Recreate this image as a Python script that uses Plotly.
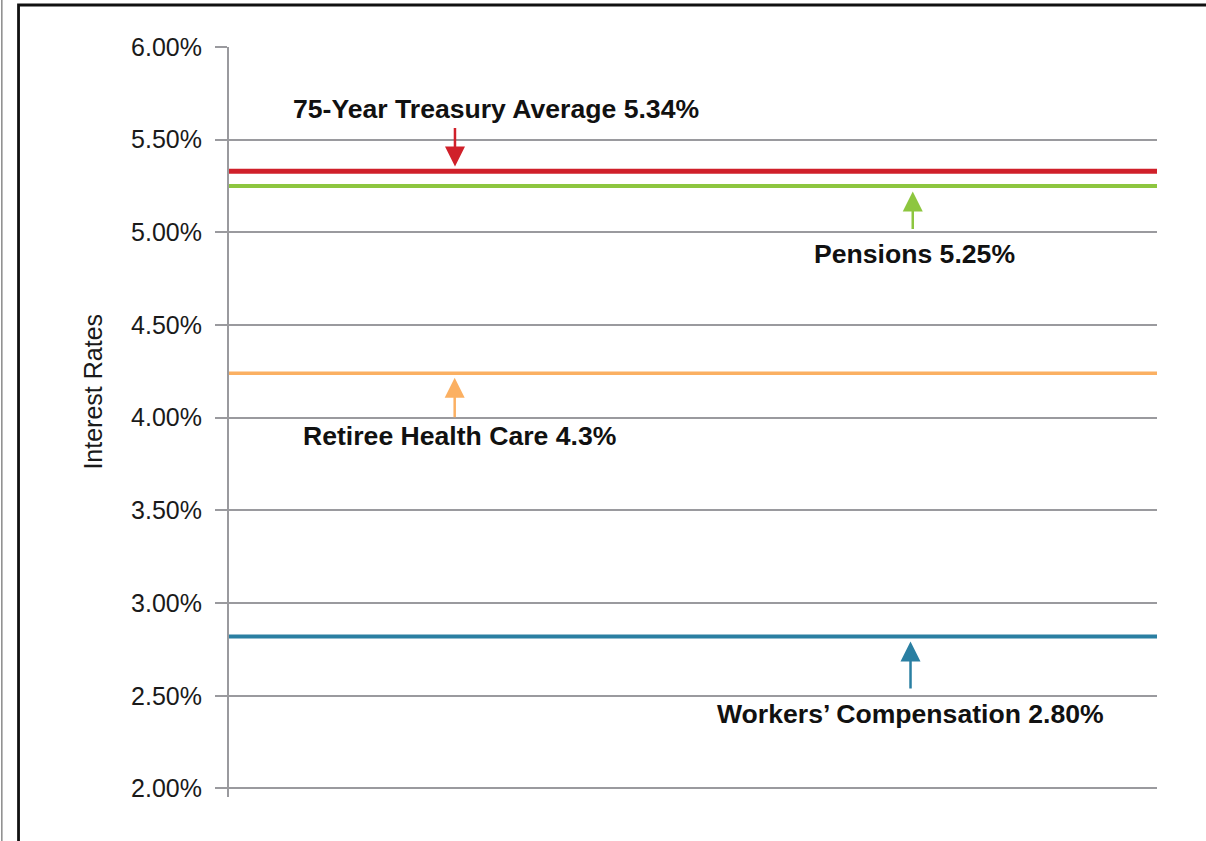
import plotly.graph_objects as go

# Data
series_names = ["75-Year Treasury Average", "Pensions", "Retiree Health Care", "Workers' Compensation"]
series_values = [5.33, 5.25, 4.24, 2.82]
series_labels = ["75-Year Treasury Average 5.34%", "Pensions 5.25%",
                 "Retiree Health Care 4.3%", "Workers’ Compensation 2.80%"]
series_colors = ["#d0202a", "#8dc63f", "#fbb062", "#2a7fa2"]
series_widths = [5, 4, 3.5, 4]
x_span = [0, 1]
tick_vals = [2.0, 2.5, 3.0, 3.5, 4.0, 4.5, 5.0, 5.5, 6.0]
tick_text = ["2.00%", "2.50%", "3.00%", "3.50%", "4.00%", "4.50%", "5.00%", "5.50%", "6.00%"]

# annotation placement (arrow x, arrow tail offset px, standoff, label x, label y)
arrow_x = [0.2435, 0.7368, 0.2432, 0.7344]
arrow_ay = [-44.7, 44.4, 45.6, 53.6]
arrow_standoff = [4.7, 5.4, 4.6, 5.0]
label_x = [0.2877, 0.7392, 0.2486, 0.7343]
label_y = [5.668, 4.886, 3.901, 2.400]

FONT = "Liberation Sans, Arial, Helvetica, sans-serif"
GRID = "#9a9a9e"

fig = go.Figure()
for name, v, c, w in zip(series_names, series_values, series_colors, series_widths):
    fig.add_trace(go.Scatter(x=x_span, y=[v, v], mode="lines", name=name,
                             line=dict(color=c, width=w), hoverinfo="name+y",
                             cliponaxis=False))

annotations = []
for v, c, ax_, ay_, so in zip(series_values, series_colors, arrow_x, arrow_ay, arrow_standoff):
    annotations.append(dict(x=ax_, y=v, xref="x", yref="y", text="", showarrow=True,
                            ax=0, ay=ay_, arrowhead=2, arrowsize=1.6, arrowwidth=2.5,
                            arrowcolor=c, standoff=so))
for t, lx, ly in zip(series_labels, label_x, label_y):
    annotations.append(dict(x=lx, y=ly, xref="x", yref="y", text="<b>" + t + "</b>",
                            showarrow=False, xanchor="center", yanchor="middle",
                            font=dict(family=FONT, size=26.6, color="#111111")))
annotations.append(dict(x=-0.147, y=0.54, xref="paper", yref="paper", text="Interest Rates",
                        textangle=-90, showarrow=False, xanchor="center", yanchor="middle",
                        font=dict(family=FONT, size=25, color="#1a1a1a")))

shapes = [
    dict(type="line", xref="paper", yref="paper", x0=-0.2448, x1=-0.2448, y0=-0.2, y1=1.2,
         line=dict(color="#8a8a8a", width=1.5)),
    dict(type="path", xref="paper", yref="paper",
         path="M -0.2268,-0.2 L -0.2268,1.056 L 1.2,1.056",
         line=dict(color="#111111", width=2.8)),
]

fig.update_layout(
    width=1206, height=841,
    margin=dict(l=229, r=49, t=47, b=44),
    paper_bgcolor="white", plot_bgcolor="white",
    showlegend=False,
    annotations=annotations,
    shapes=shapes,
    font=dict(family=FONT),
    xaxis=dict(range=[0, 1], showgrid=False, zeroline=False, showticklabels=False,
               showline=False, ticks=""),
    yaxis=dict(range=[1.954, 6.0], tickvals=tick_vals, ticktext=tick_text,
               showgrid=True, gridcolor=GRID, gridwidth=2, zeroline=False,
               showline=True, linecolor=GRID, linewidth=2,
               ticks="outside", ticklen=12, tickcolor=GRID, tickwidth=2,
               ticklabelstandoff=8,
               tickfont=dict(family=FONT, size=25, color="#1a1a1a")),
)

fig.write_html("out.html", config={"displayModeBar": False},
               post_script="document.body.style.margin='0';document.body.style.overflow='hidden';")
